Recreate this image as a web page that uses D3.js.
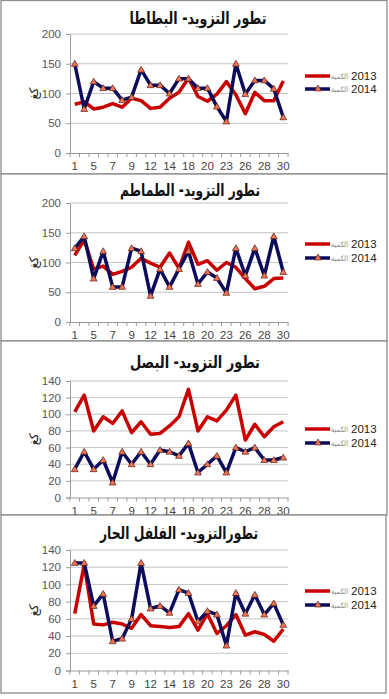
<!DOCTYPE html>
<html><head><meta charset="utf-8">
<script src="https://cdn.jsdelivr.net/npm/d3@7"></script>
<style>body{margin:0;background:#fff}svg{display:block}</style>
</head><body>
<svg id="c" width="389" height="699"></svg>
<script>
// ---- data ----
const days = ["1","3","5","6","7","8","9","10","12","13","14","16","18","19","20","21","23","24","26","27","28","29","30"];
const titles = ["تطور التزويد- البطاطا","تطور التزويد- الطماطم","تطور التزويد- البصل","تطورالتزويد- الفلفل الحار"];
const seriesNames = ["2013","2014"];
const legendWord = "الكمية";
const yLabel = "كغ";
const potato2013 = [82,86,74,77,83,77,92,88,75,77,92,102,126,95,87,99,120,98,66,102,88,88,121];
const potato2014 = [150,74,120,109,109,89,94,140,114,114,100,125,125,109,109,78,53,150,99,122,122,108,60];
const tomato2013 = [112,138,89,94,80,85,92,107,99,92,116,90,134,97,103,87,100,92,73,56,60,73,74];
const tomato2014 = [124,144,73,119,59,59,124,119,44,89,59,89,119,64,84,74,49,124,78,124,78,144,84];
const onion2013 = [103,123,80,97,89,104,78,91,76,77,86,97,130,80,97,92,105,123,69,88,73,85,91];
const onion2014 = [34,55,34,45,18,55,40,55,40,57,55,50,65,30,40,50,30,60,55,60,45,45,48];
const pepper2013 = [66,123,54,53,56,54,49,65,52,51,50,51,66,47,66,43,52,65,41,45,42,34,48];
const pepper2014 = [125,125,75,89,34,37,60,125,72,75,67,94,90,57,69,65,29,90,66,88,65,78,53];
const yTicksA = [0,50,100,150,200];
const yTicksB = [0,20,40,60,80,100,120,140];

// ---- layout ----
const panels = [
  {title:titles[0], s13:potato2013, s14:potato2014, ticks:yTicksA, box:[1,0.5,387,174], titleX:198, titleY:24, titleW:137, plotTop:34, plotBot:153, lab:[76,89]},
  {title:titles[1], s13:tomato2013, s14:tomato2014, ticks:yTicksA, box:[1,174,387,341], titleX:190, titleY:196, titleW:140, plotTop:203, plotBot:322, lab:[244,258]},
  {title:titles[2], s13:onion2013, s14:onion2014, ticks:yTicksB, box:[1,341,387,515], titleX:195, titleY:368, titleW:130, plotTop:381, plotBot:497.5, lab:[429,443]},
  {title:titles[3], s13:pepper2013, s14:pepper2014, ticks:yTicksB, box:[1,515,386,693], titleX:179, titleY:539, titleW:158, plotTop:550, plotBot:670.5, lab:[591,605]}
];
const RED = "#C80000", BLUE = "#0C0C5C", MARK = "#F0765A", MARKS = "#5A1E10";
const svg = d3.select("#c");
const x = d3.scaleBand().domain(d3.range(days.length)).range([70,288]);
const tri = d3.symbol().type(d3.symbolTriangle).size(20);

panels.forEach(p => {
  const g = svg.append("g");
  g.append("rect").attr("x",p.box[0]).attr("y",p.box[1]).attr("width",p.box[2]-p.box[0]).attr("height",p.box[3]-p.box[1])
    .attr("fill","#fff").attr("stroke","#8c8c8c").attr("stroke-width",1.3);
  g.append("text").attr("x",p.titleX).attr("y",p.titleY).attr("text-anchor","middle")
    .attr("font-family","DejaVu Sans").attr("font-weight","bold").attr("font-size",17)
    .attr("textLength",p.titleW).attr("lengthAdjust","spacingAndGlyphs").attr("fill","#111").text(p.title);
  const ymax = p.ticks[p.ticks.length-1];
  const y = d3.scaleLinear().domain([0,ymax]).range([p.plotBot,p.plotTop]);
  g.selectAll(".grid").data(p.ticks.filter(t=>t>0)).join("line")
    .attr("x1",70).attr("x2",288).attr("y1",d=>y(d)).attr("y2",d=>y(d)).attr("stroke","#c4c4c4").attr("stroke-width",1);
  const ya = g.append("g").attr("transform","translate(70,0)").call(d3.axisLeft(y).tickValues(p.ticks).tickSize(4).tickPadding(5));
  ya.select(".domain").attr("stroke","#9a9a9a");
  ya.selectAll(".tick line").attr("stroke","#9a9a9a");
  ya.selectAll("text").attr("font-family","Liberation Sans").attr("font-size",11.5).attr("fill","#555");
  const xa = g.append("g").attr("transform",`translate(0,${p.plotBot})`)
    .call(d3.axisBottom(x).tickFormat(i => i%2===0 ? days[i] : "").tickSize(0).tickPadding(9));
  xa.select(".domain").attr("stroke","#9a9a9a");
  xa.selectAll("text").attr("font-family","Liberation Sans").attr("font-size",11.5).attr("fill","#444");
  g.selectAll(".xt").data(d3.range(days.length+1)).join("line")
    .attr("x1",i=>70+i*x.step()).attr("x2",i=>70+i*x.step()).attr("y1",p.plotBot).attr("y2",p.plotBot+4).attr("stroke","#9a9a9a");
  g.append("text").attr("transform",`translate(38,${(p.plotTop+p.plotBot)/2}) rotate(-90)`).attr("text-anchor","middle")
    .attr("font-family","DejaVu Sans").attr("font-size",12).attr("fill","#222").text(yLabel);
  const cx = i => x(i)+x.bandwidth()/2;
  const line = d3.line().x((d,i)=>cx(i)).y(d=>y(d));
  g.append("path").datum(p.s13).attr("d",line).attr("fill","none").attr("stroke",RED).attr("stroke-width",3.5).attr("stroke-linejoin","round");
  g.append("path").datum(p.s14).attr("d",line).attr("fill","none").attr("stroke",BLUE).attr("stroke-width",3.5).attr("stroke-linejoin","round");
  g.selectAll(".m").data(p.s14).join("path").attr("d",tri)
    .attr("transform",(d,i)=>`translate(${cx(i)},${y(d)+0.5})`).attr("fill",MARK).attr("stroke",MARKS).attr("stroke-width",0.7);
  [[RED,p.lab[0],seriesNames[0],false],[BLUE,p.lab[1],seriesNames[1],true]].forEach(([c,ly,name,mk])=>{
    g.append("line").attr("x1",305).attr("x2",330).attr("y1",ly).attr("y2",ly).attr("stroke",c).attr("stroke-width",3.5);
    if(mk) g.append("path").attr("d",tri).attr("transform",`translate(318,${ly})`).attr("fill",MARK).attr("stroke",MARKS).attr("stroke-width",0.7);
    g.append("text").attr("x",348).attr("y",ly+3).attr("text-anchor","end").attr("font-family","DejaVu Sans").attr("font-size",7.5)
      .attr("textLength",17).attr("lengthAdjust","spacingAndGlyphs").attr("fill","#888").text(legendWord);
    g.append("text").attr("x",351).attr("y",ly+4).attr("font-family","Liberation Sans").attr("font-size",11.5).attr("fill","#222").text(name);
  });
});
</script>
</body></html>
